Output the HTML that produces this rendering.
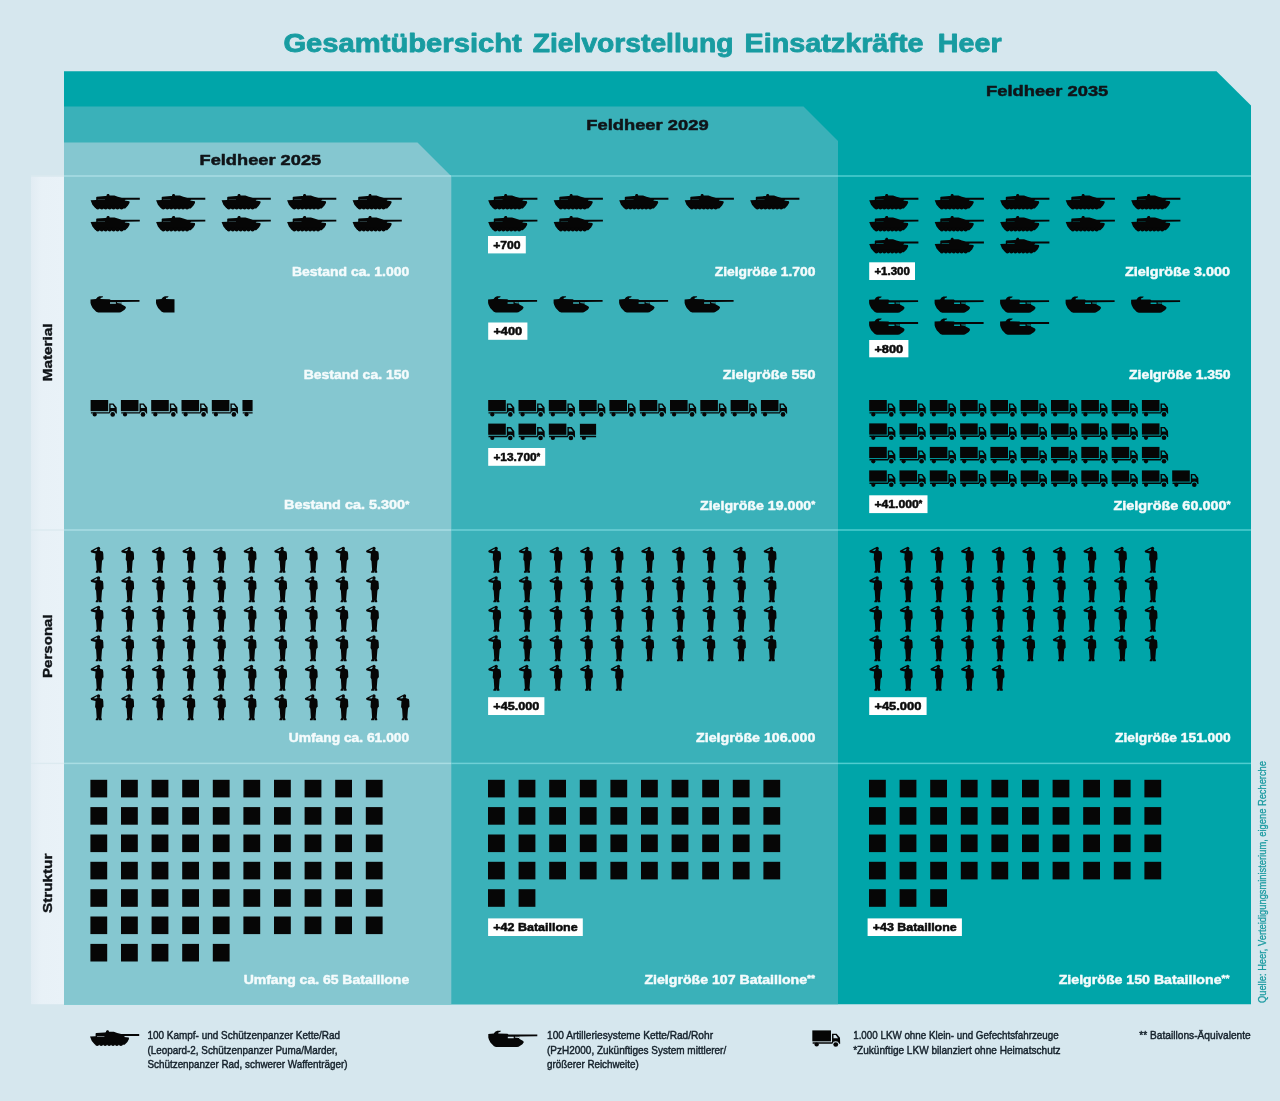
<!DOCTYPE html>
<html lang="de"><head><meta charset="utf-8"><title>Gesamtübersicht Zielvorstellung Einsatzkräfte Heer</title>
<style>html,body{margin:0;padding:0;background:#d6e7ee}svg{display:block}text{font-family:"Liberation Sans",sans-serif}.b{font-weight:bold}</style></head><body>
<svg width="1280" height="1101" viewBox="0 0 1280 1101">
<defs>
<g id="tank"><path d="M0,6.2 L5.6,5.9 L5.6,3.2 L6.2,2.7 L14.6,2.1 L15.8,1.9 L16.2,0.6 L17,0 L18.2,0 L18.8,0.7 L19,1.5 L23.8,1.5 L27.2,2.7 L31.2,3.8 L49.2,3.8 L49.2,5.7 L35,5.8 L34,6.6 L38.8,7.2 L39,8.8 L37.4,11.6 L34.6,14.4 L32,14.4 L5.6,14.4 L4.6,14 L1.8,10.7 Z M7,5.75 L7,6.1 L14.4,6.1 L14.4,5.75 Z" fill-rule="evenodd"/><circle cx="7.2" cy="13.6" r="2"/><circle cx="11.2" cy="13.6" r="2"/><circle cx="15.1" cy="13.6" r="2"/><circle cx="19.1" cy="13.6" r="2"/><circle cx="23.0" cy="13.6" r="2"/><circle cx="26.9" cy="13.6" r="2"/><circle cx="30.9" cy="13.6" r="2"/></g>
<g id="art"><path d="M0.3,3.4 L5.8,3.1 L7.2,1.2 L9.2,0.2 L12.9,0.3 L12.2,1.5 L10.6,1.8 L10.2,3.1 L19.4,3.3 L20.6,3.9 L49.3,3.9 L49.3,5.8 L31.2,5.9 L31.2,8.2 L35.2,10.4 L35.8,11.7 L34.4,13.8 L30.6,16.3 L29,16.5 L8,16.5 L6,15.8 L2.4,12 L0.9,9 L0.3,7 Z M19.8,6.2 L25.7,6.2 L25.7,7.7 L19.8,7.7 Z M26.9,6.2 L31,6.2 L31,7.5 L26.9,7.1 Z" fill-rule="evenodd"/></g>
<g id="truck"><rect x="0.3" y="0" width="17.6" height="11.2"/><path d="M18.9,3.5 L23.2,3.5 L26.4,7.6 L26.6,13.6 L25.6,13.6 A3.3,3.3 0 0 0 19.2,13.6 L0.6,13.6 L0.6,12.2 L18.9,12.2 Z M20.3,4.8 L20.3,8 L24.6,8 L22.4,4.8 Z" fill-rule="evenodd"/><circle cx="4.4" cy="14.4" r="2.1"/><circle cx="22.4" cy="14.4" r="2.3"/></g>
<g id="sol"><circle cx="7.9" cy="1.75" r="1.7"/><path d="M6.7,3 L9.2,3 L9.6,3.9 L12.2,4.6 L12.7,7 L12.9,12.4 L11.9,13.2 L11.4,14.4 L10.7,23.4 L11.3,25 L11.1,25.9 L8.5,25.9 L8.3,23.8 L7.9,25.9 L5.2,25.9 L5.1,25 L6.1,23.4 L5.5,14.4 L4.5,12.6 L4.9,6.6 L0.7,5.7 L0,4.5 L0.5,3.7 L6.3,0.7 L6.9,1.7 L2.9,4 L5.6,4.2 Z"/></g>
<linearGradient id="sg" x1="0" x2="1" y1="0" y2="0"><stop offset="0" stop-color="#e1ecf3"/><stop offset="0.3" stop-color="#e8f1f7"/><stop offset="1" stop-color="#e9f2f8"/></linearGradient>
</defs>
<rect width="1280" height="1101" fill="#d6e7ee"/>
<rect x="31" y="176.5" width="33" height="827.7" fill="url(#sg)"/>
<path d="M64,71.2 L1216.5,71.2 L1251,105.6 L1251,1004.2 L64,1004.2 Z" fill="#00a5a9"/>
<path d="M64,106.5 L803.5,106.5 L838,141 L838,1004.2 L64,1004.2 Z" fill="#3ab1b9"/>
<path d="M64,142.5 L417.5,142.5 L451.3,176.3 L451.3,1004.2 L64,1004.2 Z" fill="#85c7d0"/>
<rect x="31" y="175.3" width="33" height="1.4" fill="#dceaf0"/>
<rect x="64" y="175.25" width="387.3" height="1.5" fill="#a9dde3"/>
<rect x="451.3" y="175.25" width="386.7" height="1.5" fill="#6fd0d6"/>
<rect x="838" y="175.25" width="413" height="1.5" fill="#4fcdd0"/>
<rect x="31" y="529.3" width="33" height="1.4" fill="#dceaf0"/>
<rect x="64" y="529.25" width="387.3" height="1.5" fill="#a9dde3"/>
<rect x="451.3" y="529.25" width="386.7" height="1.5" fill="#6fd0d6"/>
<rect x="838" y="529.25" width="413" height="1.5" fill="#4fcdd0"/>
<rect x="31" y="762.6999999999999" width="33" height="1.4" fill="#dceaf0"/>
<rect x="64" y="762.65" width="387.3" height="1.5" fill="#a9dde3"/>
<rect x="451.3" y="762.65" width="386.7" height="1.5" fill="#6fd0d6"/>
<rect x="838" y="762.65" width="413" height="1.5" fill="#4fcdd0"/>
<text x="283.4" y="52.0" font-size="25.2" fill="#189ca1" class="b" textLength="238.4" lengthAdjust="spacingAndGlyphs" stroke="#189ca1" stroke-width="0.8" stroke-linejoin="round">Gesamtübersicht</text>
<text x="532.8" y="52.0" font-size="25.2" fill="#189ca1" class="b" textLength="200.7" lengthAdjust="spacingAndGlyphs" stroke="#189ca1" stroke-width="0.8" stroke-linejoin="round">Zielvorstellung</text>
<text x="744.5" y="52.0" font-size="25.2" fill="#189ca1" class="b" textLength="179.0" lengthAdjust="spacingAndGlyphs" stroke="#189ca1" stroke-width="0.8" stroke-linejoin="round">Einsatzkräfte</text>
<text x="937.8" y="52.0" font-size="25.2" fill="#189ca1" class="b" textLength="63.8" lengthAdjust="spacingAndGlyphs" stroke="#189ca1" stroke-width="0.8" stroke-linejoin="round">Heer</text>
<text x="199.5" y="164.6" font-size="15.5" fill="#101418" class="b" textLength="121.7" lengthAdjust="spacingAndGlyphs" stroke="#101418" stroke-width="0.5" stroke-linejoin="round">Feldheer 2025</text>
<text x="586.3" y="130.4" font-size="15.5" fill="#101418" class="b" textLength="122.3" lengthAdjust="spacingAndGlyphs" stroke="#101418" stroke-width="0.5" stroke-linejoin="round">Feldheer 2029</text>
<text x="986.0" y="95.8" font-size="15.5" fill="#101418" class="b" textLength="122.3" lengthAdjust="spacingAndGlyphs" stroke="#101418" stroke-width="0.5" stroke-linejoin="round">Feldheer 2035</text>
<text transform="translate(52.3,381.3) rotate(-90)" font-size="13.6" class="b" fill="#101418" stroke="#101418" stroke-width="0.4" textLength="57.8" lengthAdjust="spacingAndGlyphs">Material</text>
<text transform="translate(52.3,678.0) rotate(-90)" font-size="13.6" class="b" fill="#101418" stroke="#101418" stroke-width="0.4" textLength="63.7" lengthAdjust="spacingAndGlyphs">Personal</text>
<text transform="translate(52.3,913.0) rotate(-90)" font-size="13.6" class="b" fill="#101418" stroke="#101418" stroke-width="0.4" textLength="59.4" lengthAdjust="spacingAndGlyphs">Struktur</text>
<g fill="#060606">
<use href="#tank" x="90.6" y="194.0"/>
<use href="#tank" x="156.1" y="194.0"/>
<use href="#tank" x="221.6" y="194.0"/>
<use href="#tank" x="287.1" y="194.0"/>
<use href="#tank" x="352.6" y="194.0"/>
<use href="#tank" x="90.6" y="215.9"/>
<use href="#tank" x="156.1" y="215.9"/>
<use href="#tank" x="221.6" y="215.9"/>
<use href="#tank" x="287.1" y="215.9"/>
<use href="#tank" x="352.6" y="215.9"/>
<use href="#tank" x="488.2" y="194.0"/>
<use href="#tank" x="553.7" y="194.0"/>
<use href="#tank" x="619.2" y="194.0"/>
<use href="#tank" x="684.7" y="194.0"/>
<use href="#tank" x="750.2" y="194.0"/>
<use href="#tank" x="488.2" y="215.9"/>
<use href="#tank" x="553.7" y="215.9"/>
<use href="#tank" x="869.2" y="194.0"/>
<use href="#tank" x="934.7" y="194.0"/>
<use href="#tank" x="1000.2" y="194.0"/>
<use href="#tank" x="1065.7" y="194.0"/>
<use href="#tank" x="1131.2" y="194.0"/>
<use href="#tank" x="869.2" y="215.9"/>
<use href="#tank" x="934.7" y="215.9"/>
<use href="#tank" x="1000.2" y="215.9"/>
<use href="#tank" x="1065.7" y="215.9"/>
<use href="#tank" x="1131.2" y="215.9"/>
<use href="#tank" x="869.2" y="237.8"/>
<use href="#tank" x="934.7" y="237.8"/>
<use href="#tank" x="1000.2" y="237.8"/>
<use href="#art" x="90.2" y="296.0"/>
<svg x="155.7" y="296" width="18.8" height="17" viewBox="0 0 18.8 17" overflow="hidden"><use href="#art"/></svg>
<use href="#art" x="487.8" y="296.0"/>
<use href="#art" x="553.3" y="296.0"/>
<use href="#art" x="618.8" y="296.0"/>
<use href="#art" x="684.3" y="296.0"/>
<use href="#art" x="868.8" y="296.3"/>
<use href="#art" x="934.3" y="296.3"/>
<use href="#art" x="999.8" y="296.3"/>
<use href="#art" x="1065.3" y="296.3"/>
<use href="#art" x="1130.8" y="296.3"/>
<use href="#art" x="868.8" y="318.2"/>
<use href="#art" x="934.3" y="318.2"/>
<use href="#art" x="999.8" y="318.2"/>
<use href="#truck" x="90.3" y="400.0"/>
<use href="#truck" x="120.6" y="400.0"/>
<use href="#truck" x="150.9" y="400.0"/>
<use href="#truck" x="181.2" y="400.0"/>
<use href="#truck" x="211.5" y="400.0"/>
<svg x="242.1" y="400" width="10.5" height="17" overflow="hidden"><use href="#truck"/></svg>
<use href="#truck" x="487.9" y="400.0"/>
<use href="#truck" x="518.2" y="400.0"/>
<use href="#truck" x="548.5" y="400.0"/>
<use href="#truck" x="578.8" y="400.0"/>
<use href="#truck" x="609.1" y="400.0"/>
<use href="#truck" x="639.4" y="400.0"/>
<use href="#truck" x="669.7" y="400.0"/>
<use href="#truck" x="700.0" y="400.0"/>
<use href="#truck" x="730.3" y="400.0"/>
<use href="#truck" x="760.6" y="400.0"/>
<use href="#truck" x="487.9" y="423.6"/>
<use href="#truck" x="518.2" y="423.6"/>
<use href="#truck" x="548.5" y="423.6"/>
<svg x="579.5" y="423.6" width="16.6" height="17" overflow="hidden"><use href="#truck"/></svg>
<use href="#truck" x="868.9" y="400.0"/>
<use href="#truck" x="899.2" y="400.0"/>
<use href="#truck" x="929.5" y="400.0"/>
<use href="#truck" x="959.8" y="400.0"/>
<use href="#truck" x="990.1" y="400.0"/>
<use href="#truck" x="1020.4" y="400.0"/>
<use href="#truck" x="1050.7" y="400.0"/>
<use href="#truck" x="1081.0" y="400.0"/>
<use href="#truck" x="1111.3" y="400.0"/>
<use href="#truck" x="1141.6" y="400.0"/>
<use href="#truck" x="868.9" y="423.4"/>
<use href="#truck" x="899.2" y="423.4"/>
<use href="#truck" x="929.5" y="423.4"/>
<use href="#truck" x="959.8" y="423.4"/>
<use href="#truck" x="990.1" y="423.4"/>
<use href="#truck" x="1020.4" y="423.4"/>
<use href="#truck" x="1050.7" y="423.4"/>
<use href="#truck" x="1081.0" y="423.4"/>
<use href="#truck" x="1111.3" y="423.4"/>
<use href="#truck" x="1141.6" y="423.4"/>
<use href="#truck" x="868.9" y="446.9"/>
<use href="#truck" x="899.2" y="446.9"/>
<use href="#truck" x="929.5" y="446.9"/>
<use href="#truck" x="959.8" y="446.9"/>
<use href="#truck" x="990.1" y="446.9"/>
<use href="#truck" x="1020.4" y="446.9"/>
<use href="#truck" x="1050.7" y="446.9"/>
<use href="#truck" x="1081.0" y="446.9"/>
<use href="#truck" x="1111.3" y="446.9"/>
<use href="#truck" x="1141.6" y="446.9"/>
<use href="#truck" x="868.9" y="470.4"/>
<use href="#truck" x="899.2" y="470.4"/>
<use href="#truck" x="929.5" y="470.4"/>
<use href="#truck" x="959.8" y="470.4"/>
<use href="#truck" x="990.1" y="470.4"/>
<use href="#truck" x="1020.4" y="470.4"/>
<use href="#truck" x="1050.7" y="470.4"/>
<use href="#truck" x="1081.0" y="470.4"/>
<use href="#truck" x="1111.3" y="470.4"/>
<use href="#truck" x="1141.6" y="470.4"/>
<use href="#truck" x="1171.9" y="470.4"/>
<use href="#sol" x="90.6" y="546.8"/>
<use href="#sol" x="121.2" y="546.8"/>
<use href="#sol" x="151.8" y="546.8"/>
<use href="#sol" x="182.4" y="546.8"/>
<use href="#sol" x="213.0" y="546.8"/>
<use href="#sol" x="243.6" y="546.8"/>
<use href="#sol" x="274.2" y="546.8"/>
<use href="#sol" x="304.8" y="546.8"/>
<use href="#sol" x="335.4" y="546.8"/>
<use href="#sol" x="366.0" y="546.8"/>
<use href="#sol" x="90.6" y="576.3"/>
<use href="#sol" x="121.2" y="576.3"/>
<use href="#sol" x="151.8" y="576.3"/>
<use href="#sol" x="182.4" y="576.3"/>
<use href="#sol" x="213.0" y="576.3"/>
<use href="#sol" x="243.6" y="576.3"/>
<use href="#sol" x="274.2" y="576.3"/>
<use href="#sol" x="304.8" y="576.3"/>
<use href="#sol" x="335.4" y="576.3"/>
<use href="#sol" x="366.0" y="576.3"/>
<use href="#sol" x="90.6" y="605.8"/>
<use href="#sol" x="121.2" y="605.8"/>
<use href="#sol" x="151.8" y="605.8"/>
<use href="#sol" x="182.4" y="605.8"/>
<use href="#sol" x="213.0" y="605.8"/>
<use href="#sol" x="243.6" y="605.8"/>
<use href="#sol" x="274.2" y="605.8"/>
<use href="#sol" x="304.8" y="605.8"/>
<use href="#sol" x="335.4" y="605.8"/>
<use href="#sol" x="366.0" y="605.8"/>
<use href="#sol" x="90.6" y="635.3"/>
<use href="#sol" x="121.2" y="635.3"/>
<use href="#sol" x="151.8" y="635.3"/>
<use href="#sol" x="182.4" y="635.3"/>
<use href="#sol" x="213.0" y="635.3"/>
<use href="#sol" x="243.6" y="635.3"/>
<use href="#sol" x="274.2" y="635.3"/>
<use href="#sol" x="304.8" y="635.3"/>
<use href="#sol" x="335.4" y="635.3"/>
<use href="#sol" x="366.0" y="635.3"/>
<use href="#sol" x="90.6" y="664.8"/>
<use href="#sol" x="121.2" y="664.8"/>
<use href="#sol" x="151.8" y="664.8"/>
<use href="#sol" x="182.4" y="664.8"/>
<use href="#sol" x="213.0" y="664.8"/>
<use href="#sol" x="243.6" y="664.8"/>
<use href="#sol" x="274.2" y="664.8"/>
<use href="#sol" x="304.8" y="664.8"/>
<use href="#sol" x="335.4" y="664.8"/>
<use href="#sol" x="366.0" y="664.8"/>
<use href="#sol" x="90.6" y="694.3"/>
<use href="#sol" x="121.2" y="694.3"/>
<use href="#sol" x="151.8" y="694.3"/>
<use href="#sol" x="182.4" y="694.3"/>
<use href="#sol" x="213.0" y="694.3"/>
<use href="#sol" x="243.6" y="694.3"/>
<use href="#sol" x="274.2" y="694.3"/>
<use href="#sol" x="304.8" y="694.3"/>
<use href="#sol" x="335.4" y="694.3"/>
<use href="#sol" x="366.0" y="694.3"/>
<use href="#sol" x="396.6" y="694.3"/>
<use href="#sol" x="488.2" y="546.8"/>
<use href="#sol" x="518.8" y="546.8"/>
<use href="#sol" x="549.4" y="546.8"/>
<use href="#sol" x="580.0" y="546.8"/>
<use href="#sol" x="610.6" y="546.8"/>
<use href="#sol" x="641.2" y="546.8"/>
<use href="#sol" x="671.8" y="546.8"/>
<use href="#sol" x="702.4" y="546.8"/>
<use href="#sol" x="733.0" y="546.8"/>
<use href="#sol" x="763.6" y="546.8"/>
<use href="#sol" x="488.2" y="576.3"/>
<use href="#sol" x="518.8" y="576.3"/>
<use href="#sol" x="549.4" y="576.3"/>
<use href="#sol" x="580.0" y="576.3"/>
<use href="#sol" x="610.6" y="576.3"/>
<use href="#sol" x="641.2" y="576.3"/>
<use href="#sol" x="671.8" y="576.3"/>
<use href="#sol" x="702.4" y="576.3"/>
<use href="#sol" x="733.0" y="576.3"/>
<use href="#sol" x="763.6" y="576.3"/>
<use href="#sol" x="488.2" y="605.8"/>
<use href="#sol" x="518.8" y="605.8"/>
<use href="#sol" x="549.4" y="605.8"/>
<use href="#sol" x="580.0" y="605.8"/>
<use href="#sol" x="610.6" y="605.8"/>
<use href="#sol" x="641.2" y="605.8"/>
<use href="#sol" x="671.8" y="605.8"/>
<use href="#sol" x="702.4" y="605.8"/>
<use href="#sol" x="733.0" y="605.8"/>
<use href="#sol" x="763.6" y="605.8"/>
<use href="#sol" x="488.2" y="635.3"/>
<use href="#sol" x="518.8" y="635.3"/>
<use href="#sol" x="549.4" y="635.3"/>
<use href="#sol" x="580.0" y="635.3"/>
<use href="#sol" x="610.6" y="635.3"/>
<use href="#sol" x="641.2" y="635.3"/>
<use href="#sol" x="671.8" y="635.3"/>
<use href="#sol" x="702.4" y="635.3"/>
<use href="#sol" x="733.0" y="635.3"/>
<use href="#sol" x="763.6" y="635.3"/>
<use href="#sol" x="488.2" y="664.8"/>
<use href="#sol" x="518.8" y="664.8"/>
<use href="#sol" x="549.4" y="664.8"/>
<use href="#sol" x="580.0" y="664.8"/>
<use href="#sol" x="610.6" y="664.8"/>
<use href="#sol" x="869.2" y="546.8"/>
<use href="#sol" x="899.8" y="546.8"/>
<use href="#sol" x="930.4" y="546.8"/>
<use href="#sol" x="961.0" y="546.8"/>
<use href="#sol" x="991.6" y="546.8"/>
<use href="#sol" x="1022.2" y="546.8"/>
<use href="#sol" x="1052.8" y="546.8"/>
<use href="#sol" x="1083.4" y="546.8"/>
<use href="#sol" x="1114.0" y="546.8"/>
<use href="#sol" x="1144.6" y="546.8"/>
<use href="#sol" x="869.2" y="576.3"/>
<use href="#sol" x="899.8" y="576.3"/>
<use href="#sol" x="930.4" y="576.3"/>
<use href="#sol" x="961.0" y="576.3"/>
<use href="#sol" x="991.6" y="576.3"/>
<use href="#sol" x="1022.2" y="576.3"/>
<use href="#sol" x="1052.8" y="576.3"/>
<use href="#sol" x="1083.4" y="576.3"/>
<use href="#sol" x="1114.0" y="576.3"/>
<use href="#sol" x="1144.6" y="576.3"/>
<use href="#sol" x="869.2" y="605.8"/>
<use href="#sol" x="899.8" y="605.8"/>
<use href="#sol" x="930.4" y="605.8"/>
<use href="#sol" x="961.0" y="605.8"/>
<use href="#sol" x="991.6" y="605.8"/>
<use href="#sol" x="1022.2" y="605.8"/>
<use href="#sol" x="1052.8" y="605.8"/>
<use href="#sol" x="1083.4" y="605.8"/>
<use href="#sol" x="1114.0" y="605.8"/>
<use href="#sol" x="1144.6" y="605.8"/>
<use href="#sol" x="869.2" y="635.3"/>
<use href="#sol" x="899.8" y="635.3"/>
<use href="#sol" x="930.4" y="635.3"/>
<use href="#sol" x="961.0" y="635.3"/>
<use href="#sol" x="991.6" y="635.3"/>
<use href="#sol" x="1022.2" y="635.3"/>
<use href="#sol" x="1052.8" y="635.3"/>
<use href="#sol" x="1083.4" y="635.3"/>
<use href="#sol" x="1114.0" y="635.3"/>
<use href="#sol" x="1144.6" y="635.3"/>
<use href="#sol" x="869.2" y="664.8"/>
<use href="#sol" x="899.8" y="664.8"/>
<use href="#sol" x="930.4" y="664.8"/>
<use href="#sol" x="961.0" y="664.8"/>
<use href="#sol" x="991.6" y="664.8"/>
<rect x="90.4" y="779.8" width="16.8" height="17.6"/>
<rect x="121.0" y="779.8" width="16.8" height="17.6"/>
<rect x="151.6" y="779.8" width="16.8" height="17.6"/>
<rect x="182.2" y="779.8" width="16.8" height="17.6"/>
<rect x="212.8" y="779.8" width="16.8" height="17.6"/>
<rect x="243.4" y="779.8" width="16.8" height="17.6"/>
<rect x="274.0" y="779.8" width="16.8" height="17.6"/>
<rect x="304.6" y="779.8" width="16.8" height="17.6"/>
<rect x="335.2" y="779.8" width="16.8" height="17.6"/>
<rect x="365.8" y="779.8" width="16.8" height="17.6"/>
<rect x="90.4" y="807.1" width="16.8" height="17.6"/>
<rect x="121.0" y="807.1" width="16.8" height="17.6"/>
<rect x="151.6" y="807.1" width="16.8" height="17.6"/>
<rect x="182.2" y="807.1" width="16.8" height="17.6"/>
<rect x="212.8" y="807.1" width="16.8" height="17.6"/>
<rect x="243.4" y="807.1" width="16.8" height="17.6"/>
<rect x="274.0" y="807.1" width="16.8" height="17.6"/>
<rect x="304.6" y="807.1" width="16.8" height="17.6"/>
<rect x="335.2" y="807.1" width="16.8" height="17.6"/>
<rect x="365.8" y="807.1" width="16.8" height="17.6"/>
<rect x="90.4" y="834.5" width="16.8" height="17.6"/>
<rect x="121.0" y="834.5" width="16.8" height="17.6"/>
<rect x="151.6" y="834.5" width="16.8" height="17.6"/>
<rect x="182.2" y="834.5" width="16.8" height="17.6"/>
<rect x="212.8" y="834.5" width="16.8" height="17.6"/>
<rect x="243.4" y="834.5" width="16.8" height="17.6"/>
<rect x="274.0" y="834.5" width="16.8" height="17.6"/>
<rect x="304.6" y="834.5" width="16.8" height="17.6"/>
<rect x="335.2" y="834.5" width="16.8" height="17.6"/>
<rect x="365.8" y="834.5" width="16.8" height="17.6"/>
<rect x="90.4" y="861.8" width="16.8" height="17.6"/>
<rect x="121.0" y="861.8" width="16.8" height="17.6"/>
<rect x="151.6" y="861.8" width="16.8" height="17.6"/>
<rect x="182.2" y="861.8" width="16.8" height="17.6"/>
<rect x="212.8" y="861.8" width="16.8" height="17.6"/>
<rect x="243.4" y="861.8" width="16.8" height="17.6"/>
<rect x="274.0" y="861.8" width="16.8" height="17.6"/>
<rect x="304.6" y="861.8" width="16.8" height="17.6"/>
<rect x="335.2" y="861.8" width="16.8" height="17.6"/>
<rect x="365.8" y="861.8" width="16.8" height="17.6"/>
<rect x="90.4" y="889.2" width="16.8" height="17.6"/>
<rect x="121.0" y="889.2" width="16.8" height="17.6"/>
<rect x="151.6" y="889.2" width="16.8" height="17.6"/>
<rect x="182.2" y="889.2" width="16.8" height="17.6"/>
<rect x="212.8" y="889.2" width="16.8" height="17.6"/>
<rect x="243.4" y="889.2" width="16.8" height="17.6"/>
<rect x="274.0" y="889.2" width="16.8" height="17.6"/>
<rect x="304.6" y="889.2" width="16.8" height="17.6"/>
<rect x="335.2" y="889.2" width="16.8" height="17.6"/>
<rect x="365.8" y="889.2" width="16.8" height="17.6"/>
<rect x="90.4" y="916.5" width="16.8" height="17.6"/>
<rect x="121.0" y="916.5" width="16.8" height="17.6"/>
<rect x="151.6" y="916.5" width="16.8" height="17.6"/>
<rect x="182.2" y="916.5" width="16.8" height="17.6"/>
<rect x="212.8" y="916.5" width="16.8" height="17.6"/>
<rect x="243.4" y="916.5" width="16.8" height="17.6"/>
<rect x="274.0" y="916.5" width="16.8" height="17.6"/>
<rect x="304.6" y="916.5" width="16.8" height="17.6"/>
<rect x="335.2" y="916.5" width="16.8" height="17.6"/>
<rect x="365.8" y="916.5" width="16.8" height="17.6"/>
<rect x="90.4" y="943.9" width="16.8" height="17.6"/>
<rect x="121.0" y="943.9" width="16.8" height="17.6"/>
<rect x="151.6" y="943.9" width="16.8" height="17.6"/>
<rect x="182.2" y="943.9" width="16.8" height="17.6"/>
<rect x="212.8" y="943.9" width="16.8" height="17.6"/>
<rect x="488.0" y="779.8" width="16.8" height="17.6"/>
<rect x="518.6" y="779.8" width="16.8" height="17.6"/>
<rect x="549.2" y="779.8" width="16.8" height="17.6"/>
<rect x="579.8" y="779.8" width="16.8" height="17.6"/>
<rect x="610.4" y="779.8" width="16.8" height="17.6"/>
<rect x="641.0" y="779.8" width="16.8" height="17.6"/>
<rect x="671.6" y="779.8" width="16.8" height="17.6"/>
<rect x="702.2" y="779.8" width="16.8" height="17.6"/>
<rect x="732.8" y="779.8" width="16.8" height="17.6"/>
<rect x="763.4" y="779.8" width="16.8" height="17.6"/>
<rect x="488.0" y="807.1" width="16.8" height="17.6"/>
<rect x="518.6" y="807.1" width="16.8" height="17.6"/>
<rect x="549.2" y="807.1" width="16.8" height="17.6"/>
<rect x="579.8" y="807.1" width="16.8" height="17.6"/>
<rect x="610.4" y="807.1" width="16.8" height="17.6"/>
<rect x="641.0" y="807.1" width="16.8" height="17.6"/>
<rect x="671.6" y="807.1" width="16.8" height="17.6"/>
<rect x="702.2" y="807.1" width="16.8" height="17.6"/>
<rect x="732.8" y="807.1" width="16.8" height="17.6"/>
<rect x="763.4" y="807.1" width="16.8" height="17.6"/>
<rect x="488.0" y="834.5" width="16.8" height="17.6"/>
<rect x="518.6" y="834.5" width="16.8" height="17.6"/>
<rect x="549.2" y="834.5" width="16.8" height="17.6"/>
<rect x="579.8" y="834.5" width="16.8" height="17.6"/>
<rect x="610.4" y="834.5" width="16.8" height="17.6"/>
<rect x="641.0" y="834.5" width="16.8" height="17.6"/>
<rect x="671.6" y="834.5" width="16.8" height="17.6"/>
<rect x="702.2" y="834.5" width="16.8" height="17.6"/>
<rect x="732.8" y="834.5" width="16.8" height="17.6"/>
<rect x="763.4" y="834.5" width="16.8" height="17.6"/>
<rect x="488.0" y="861.8" width="16.8" height="17.6"/>
<rect x="518.6" y="861.8" width="16.8" height="17.6"/>
<rect x="549.2" y="861.8" width="16.8" height="17.6"/>
<rect x="579.8" y="861.8" width="16.8" height="17.6"/>
<rect x="610.4" y="861.8" width="16.8" height="17.6"/>
<rect x="641.0" y="861.8" width="16.8" height="17.6"/>
<rect x="671.6" y="861.8" width="16.8" height="17.6"/>
<rect x="702.2" y="861.8" width="16.8" height="17.6"/>
<rect x="732.8" y="861.8" width="16.8" height="17.6"/>
<rect x="763.4" y="861.8" width="16.8" height="17.6"/>
<rect x="488.0" y="889.2" width="16.8" height="17.6"/>
<rect x="518.6" y="889.2" width="16.8" height="17.6"/>
<rect x="869.0" y="779.8" width="16.8" height="17.6"/>
<rect x="899.6" y="779.8" width="16.8" height="17.6"/>
<rect x="930.2" y="779.8" width="16.8" height="17.6"/>
<rect x="960.8" y="779.8" width="16.8" height="17.6"/>
<rect x="991.4" y="779.8" width="16.8" height="17.6"/>
<rect x="1022.0" y="779.8" width="16.8" height="17.6"/>
<rect x="1052.6" y="779.8" width="16.8" height="17.6"/>
<rect x="1083.2" y="779.8" width="16.8" height="17.6"/>
<rect x="1113.8" y="779.8" width="16.8" height="17.6"/>
<rect x="1144.4" y="779.8" width="16.8" height="17.6"/>
<rect x="869.0" y="807.1" width="16.8" height="17.6"/>
<rect x="899.6" y="807.1" width="16.8" height="17.6"/>
<rect x="930.2" y="807.1" width="16.8" height="17.6"/>
<rect x="960.8" y="807.1" width="16.8" height="17.6"/>
<rect x="991.4" y="807.1" width="16.8" height="17.6"/>
<rect x="1022.0" y="807.1" width="16.8" height="17.6"/>
<rect x="1052.6" y="807.1" width="16.8" height="17.6"/>
<rect x="1083.2" y="807.1" width="16.8" height="17.6"/>
<rect x="1113.8" y="807.1" width="16.8" height="17.6"/>
<rect x="1144.4" y="807.1" width="16.8" height="17.6"/>
<rect x="869.0" y="834.5" width="16.8" height="17.6"/>
<rect x="899.6" y="834.5" width="16.8" height="17.6"/>
<rect x="930.2" y="834.5" width="16.8" height="17.6"/>
<rect x="960.8" y="834.5" width="16.8" height="17.6"/>
<rect x="991.4" y="834.5" width="16.8" height="17.6"/>
<rect x="1022.0" y="834.5" width="16.8" height="17.6"/>
<rect x="1052.6" y="834.5" width="16.8" height="17.6"/>
<rect x="1083.2" y="834.5" width="16.8" height="17.6"/>
<rect x="1113.8" y="834.5" width="16.8" height="17.6"/>
<rect x="1144.4" y="834.5" width="16.8" height="17.6"/>
<rect x="869.0" y="861.8" width="16.8" height="17.6"/>
<rect x="899.6" y="861.8" width="16.8" height="17.6"/>
<rect x="930.2" y="861.8" width="16.8" height="17.6"/>
<rect x="960.8" y="861.8" width="16.8" height="17.6"/>
<rect x="991.4" y="861.8" width="16.8" height="17.6"/>
<rect x="1022.0" y="861.8" width="16.8" height="17.6"/>
<rect x="1052.6" y="861.8" width="16.8" height="17.6"/>
<rect x="1083.2" y="861.8" width="16.8" height="17.6"/>
<rect x="1113.8" y="861.8" width="16.8" height="17.6"/>
<rect x="1144.4" y="861.8" width="16.8" height="17.6"/>
<rect x="869.0" y="889.2" width="16.8" height="17.6"/>
<rect x="899.6" y="889.2" width="16.8" height="17.6"/>
<rect x="930.2" y="889.2" width="16.8" height="17.6"/>
</g>
<rect x="488.0" y="236.0" width="37.8" height="17.4" fill="#fff"/>
<text x="493.2" y="248.9" font-size="11.8" fill="#0c0c0c" class="b" textLength="27.4" lengthAdjust="spacingAndGlyphs" stroke="#0c0c0c" stroke-width="0.55" stroke-linejoin="round">+700</text>
<rect x="488.2" y="322.5" width="39.2" height="17.3" fill="#fff"/>
<text x="493.4" y="335.4" font-size="11.8" fill="#0c0c0c" class="b" textLength="28.8" lengthAdjust="spacingAndGlyphs" stroke="#0c0c0c" stroke-width="0.55" stroke-linejoin="round">+400</text>
<rect x="488.2" y="448.0" width="57.0" height="17.8" fill="#fff"/>
<text x="493.4" y="461.1" font-size="11.8" fill="#0c0c0c" class="b" textLength="46.6" lengthAdjust="spacingAndGlyphs" stroke="#0c0c0c" stroke-width="0.55" stroke-linejoin="round">+13.700<tspan font-size="8.5" dy="-2.4">*</tspan></text>
<rect x="488.1" y="697.2" width="56.3" height="17.8" fill="#fff"/>
<text x="493.3" y="710.3" font-size="11.8" fill="#0c0c0c" class="b" textLength="45.9" lengthAdjust="spacingAndGlyphs" stroke="#0c0c0c" stroke-width="0.55" stroke-linejoin="round">+45.000</text>
<rect x="488.1" y="918.4" width="94.7" height="17.6" fill="#fff"/>
<text x="493.3" y="931.4" font-size="11.8" fill="#0c0c0c" class="b" textLength="84.3" lengthAdjust="spacingAndGlyphs" stroke="#0c0c0c" stroke-width="0.55" stroke-linejoin="round">+42 Bataillone</text>
<rect x="869.2" y="262.3" width="45.8" height="17.7" fill="#fff"/>
<text x="874.4" y="275.4" font-size="11.8" fill="#0c0c0c" class="b" textLength="35.4" lengthAdjust="spacingAndGlyphs" stroke="#0c0c0c" stroke-width="0.55" stroke-linejoin="round">+1.300</text>
<rect x="869.2" y="340.0" width="39.2" height="17.3" fill="#fff"/>
<text x="874.4" y="352.9" font-size="11.8" fill="#0c0c0c" class="b" textLength="28.8" lengthAdjust="spacingAndGlyphs" stroke="#0c0c0c" stroke-width="0.55" stroke-linejoin="round">+800</text>
<rect x="869.2" y="495.3" width="58.3" height="17.8" fill="#fff"/>
<text x="874.4" y="508.4" font-size="11.8" fill="#0c0c0c" class="b" textLength="47.9" lengthAdjust="spacingAndGlyphs" stroke="#0c0c0c" stroke-width="0.55" stroke-linejoin="round">+41.000<tspan font-size="8.5" dy="-2.4">*</tspan></text>
<rect x="869.2" y="697.2" width="57.4" height="17.8" fill="#fff"/>
<text x="874.4" y="710.3" font-size="11.8" fill="#0c0c0c" class="b" textLength="47.0" lengthAdjust="spacingAndGlyphs" stroke="#0c0c0c" stroke-width="0.55" stroke-linejoin="round">+45.000</text>
<rect x="867.6" y="918.4" width="94.3" height="17.6" fill="#fff"/>
<text x="872.8" y="931.4" font-size="11.8" fill="#0c0c0c" class="b" textLength="83.9" lengthAdjust="spacingAndGlyphs" stroke="#0c0c0c" stroke-width="0.55" stroke-linejoin="round">+43 Bataillone</text>
<text x="292.0" y="276.3" font-size="12.5" fill="#f4fbfc" class="b" textLength="117.2" lengthAdjust="spacingAndGlyphs" stroke="#f4fbfc" stroke-width="0.45" stroke-linejoin="round">Bestand ca. 1.000</text>
<text x="303.7" y="379.1" font-size="12.5" fill="#f4fbfc" class="b" textLength="105.5" lengthAdjust="spacingAndGlyphs" stroke="#f4fbfc" stroke-width="0.45" stroke-linejoin="round">Bestand ca. 150</text>
<text x="284.0" y="509.2" font-size="12.5" fill="#f4fbfc" class="b" textLength="125.2" lengthAdjust="spacingAndGlyphs" stroke="#f4fbfc" stroke-width="0.45" stroke-linejoin="round">Bestand ca. 5.300<tspan font-size="9.0" dy="-2.5">*</tspan></text>
<text x="288.7" y="741.9" font-size="12.5" fill="#f4fbfc" class="b" textLength="120.5" lengthAdjust="spacingAndGlyphs" stroke="#f4fbfc" stroke-width="0.45" stroke-linejoin="round">Umfang ca. 61.000</text>
<text x="243.7" y="983.5" font-size="12.5" fill="#f4fbfc" class="b" textLength="165.5" lengthAdjust="spacingAndGlyphs" stroke="#f4fbfc" stroke-width="0.45" stroke-linejoin="round">Umfang ca. 65 Bataillone</text>
<text x="714.7" y="276.4" font-size="12.5" fill="#f4fbfc" class="b" textLength="100.7" lengthAdjust="spacingAndGlyphs" stroke="#f4fbfc" stroke-width="0.45" stroke-linejoin="round">Zielgröße 1.700</text>
<text x="722.8" y="379.4" font-size="12.5" fill="#f4fbfc" class="b" textLength="92.6" lengthAdjust="spacingAndGlyphs" stroke="#f4fbfc" stroke-width="0.45" stroke-linejoin="round">Zielgröße 550</text>
<text x="700.0" y="509.6" font-size="12.5" fill="#f4fbfc" class="b" textLength="115.2" lengthAdjust="spacingAndGlyphs" stroke="#f4fbfc" stroke-width="0.45" stroke-linejoin="round">Zielgröße 19.000<tspan font-size="9.0" dy="-2.5">*</tspan></text>
<text x="696.0" y="741.9" font-size="12.5" fill="#f4fbfc" class="b" textLength="119.3" lengthAdjust="spacingAndGlyphs" stroke="#f4fbfc" stroke-width="0.45" stroke-linejoin="round">Zielgröße 106.000</text>
<text x="644.4" y="983.5" font-size="12.5" fill="#f4fbfc" class="b" textLength="170.6" lengthAdjust="spacingAndGlyphs" stroke="#f4fbfc" stroke-width="0.45" stroke-linejoin="round">Zielgröße 107 Bataillone<tspan font-size="9.0" dy="-2.5">**</tspan></text>
<text x="1125.0" y="276.1" font-size="12.5" fill="#f4fbfc" class="b" textLength="105.0" lengthAdjust="spacingAndGlyphs" stroke="#f4fbfc" stroke-width="0.45" stroke-linejoin="round">Zielgröße 3.000</text>
<text x="1129.0" y="379.1" font-size="12.5" fill="#f4fbfc" class="b" textLength="101.6" lengthAdjust="spacingAndGlyphs" stroke="#f4fbfc" stroke-width="0.45" stroke-linejoin="round">Zielgröße 1.350</text>
<text x="1113.4" y="509.5" font-size="12.5" fill="#f4fbfc" class="b" textLength="117.2" lengthAdjust="spacingAndGlyphs" stroke="#f4fbfc" stroke-width="0.45" stroke-linejoin="round">Zielgröße 60.000<tspan font-size="9.0" dy="-2.5">*</tspan></text>
<text x="1115.0" y="741.9" font-size="12.5" fill="#f4fbfc" class="b" textLength="115.6" lengthAdjust="spacingAndGlyphs" stroke="#f4fbfc" stroke-width="0.45" stroke-linejoin="round">Zielgröße 151.000</text>
<text x="1058.7" y="983.5" font-size="12.5" fill="#f4fbfc" class="b" textLength="170.8" lengthAdjust="spacingAndGlyphs" stroke="#f4fbfc" stroke-width="0.45" stroke-linejoin="round">Zielgröße 150 Bataillone<tspan font-size="9.0" dy="-2.5">**</tspan></text>
<text transform="translate(1265.9,1003) rotate(-90)" font-size="11.6" fill="#1a9aa0" stroke="#1a9aa0" stroke-width="0.3" textLength="242" lengthAdjust="spacingAndGlyphs">Quelle: Heer, Verteidigungsministerium, eigene Recherche</text>
<g fill="#060606">
<use href="#tank" x="90" y="1030.3"/>
<use href="#art" x="488" y="1030.5"/>
<use href="#truck" x="812" y="1030.4" transform="translate(812 1030.4) scale(1.06 0.98) translate(-812 -1030.4)"/>
</g>
<text x="147.5" y="1039.3" font-size="11.5" fill="#14202a" textLength="192.5" lengthAdjust="spacingAndGlyphs" stroke="#14202a" stroke-width="0.45" stroke-linejoin="round">100 Kampf- und Schützenpanzer Kette/Rad</text>
<text x="147.5" y="1053.7" font-size="11.5" fill="#14202a" textLength="190.0" lengthAdjust="spacingAndGlyphs" stroke="#14202a" stroke-width="0.45" stroke-linejoin="round">(Leopard-2, Schützenpanzer Puma/Marder,</text>
<text x="147.5" y="1068.0" font-size="11.5" fill="#14202a" textLength="200.0" lengthAdjust="spacingAndGlyphs" stroke="#14202a" stroke-width="0.45" stroke-linejoin="round">Schützenpanzer Rad, schwerer Waffenträger)</text>
<text x="547.0" y="1039.3" font-size="11.5" fill="#14202a" textLength="166.0" lengthAdjust="spacingAndGlyphs" stroke="#14202a" stroke-width="0.45" stroke-linejoin="round">100 Artilleriesysteme Kette/Rad/Rohr</text>
<text x="547.0" y="1053.7" font-size="11.5" fill="#14202a" textLength="179.2" lengthAdjust="spacingAndGlyphs" stroke="#14202a" stroke-width="0.45" stroke-linejoin="round">(PzH2000, Zukünftiges System mittlerer/</text>
<text x="547.0" y="1068.0" font-size="11.5" fill="#14202a" textLength="91.7" lengthAdjust="spacingAndGlyphs" stroke="#14202a" stroke-width="0.45" stroke-linejoin="round">größerer Reichweite)</text>
<text x="853.2" y="1039.3" font-size="11.5" fill="#14202a" textLength="205.5" lengthAdjust="spacingAndGlyphs" stroke="#14202a" stroke-width="0.45" stroke-linejoin="round">1.000 LKW ohne Klein- und Gefechtsfahrzeuge</text>
<text x="853.2" y="1053.7" font-size="11.5" fill="#14202a" textLength="207.4" lengthAdjust="spacingAndGlyphs" stroke="#14202a" stroke-width="0.45" stroke-linejoin="round">*Zukünftige LKW bilanziert ohne Heimatschutz</text>
<text x="1139.3" y="1039.3" font-size="11.5" fill="#14202a" textLength="111.4" lengthAdjust="spacingAndGlyphs" stroke="#14202a" stroke-width="0.45" stroke-linejoin="round">** Bataillons-Äquivalente</text>
</svg></body></html>
